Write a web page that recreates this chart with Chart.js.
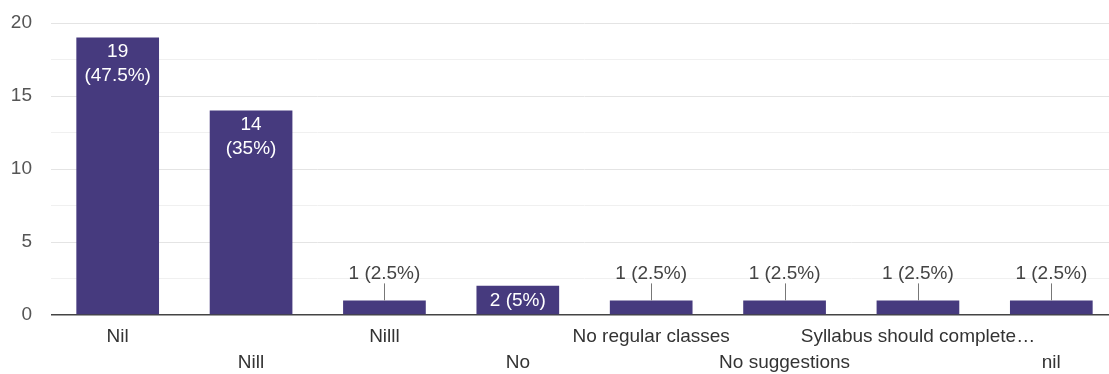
<!DOCTYPE html>
<html>
<head>
<meta charset="utf-8">
<script src="https://cdn.jsdelivr.net/npm/chart.js@4"></script>
<style>
  html, body { margin: 0; padding: 0; background: #fff; overflow: hidden; }
  #wrap { width: 1118px; height: 374px; position: relative; }
</style>
</head>
<body>
<div id="wrap"><canvas id="chart"></canvas></div>
<script>
let categories = ["Nil", "Nill", "Nilll", "No", "No regular classes", "No suggestions", "Syllabus should complete\u2026", "nil"];
let counts = [19, 14, 1, 2, 1, 1, 1, 1];
let yTicks = [0, 5, 10, 15, 20];

let total = counts.reduce((a, b) => a + b, 0);
let barColor = "#463a7e";
let font = "Liberation Sans, Arial, sans-serif";

function pctText(v) {
    return "(" + parseFloat((v / total * 100).toFixed(1)) + "%)";
}

// alternate labels on two rows like the original
let xLabels = categories.map((c, i) => i % 2 === 0 ? [c] : ["", c]);

let barLabels = {
    id: "barLabels",
    afterDatasetsDraw(chart) {
        let ctx = chart.ctx;
        let meta = chart.getDatasetMeta(0);
        ctx.save();
        ctx.font = "19px " + font;
        ctx.textAlign = "center";
        ctx.textBaseline = "middle";
        meta.data.forEach((bar, i) => {
            let v = counts[i];
            let h = bar.base - bar.y;
            let one = v + " " + pctText(v);
            if (h > 60) {
                ctx.fillStyle = "#fff";
                ctx.fillText(String(v), bar.x, bar.y + 14);
                ctx.fillText(pctText(v), bar.x, bar.y + 38);
            } else if (h >= 22) {
                ctx.fillStyle = "#fff";
                ctx.fillText(one, bar.x, (bar.y + bar.base) / 2 + 1);
            } else {
                ctx.strokeStyle = "#777";
                ctx.lineWidth = 1;
                ctx.beginPath();
                ctx.moveTo(Math.round(bar.x) + 0.5, bar.y);
                ctx.lineTo(Math.round(bar.x) + 0.5, bar.y - 17);
                ctx.stroke();
                ctx.fillStyle = "#444";
                ctx.fillText(one, bar.x, bar.y - 27);
            }
        });
        ctx.restore();
    }
};

new Chart(document.getElementById("chart"), {
    type: "bar",
    data: {
        labels: xLabels,
        datasets: [{
            data: counts,
            backgroundColor: barColor,
            borderWidth: 0,
            categoryPercentage: 1,
            barPercentage: 0.62
        }]
    },
    options: {
        responsive: true,
        maintainAspectRatio: false,
        animation: false,
        layout: { padding: { top: 23, right: 0, bottom: 0, left: 1 } },
        plugins: {
            legend: { display: false },
            tooltip: { enabled: false }
        },
        scales: {
            x: {
                grid: { display: false, drawTicks: false },
                border: { display: false },
                ticks: {
                    autoSkip: false,
                    maxRotation: 0,
                    padding: 9,
                    color: "#333",
                    font: { family: font, size: 19, lineHeight: "26px" }
                },
                afterFit: s => { s.height = 59; }
            },
            y: {
                min: 0,
                max: 20,
                grid: {
                    drawTicks: false,
                    color: c => c.tick.value === 0 ? "#444" : (c.tick.value % 5 === 0 ? "#e4e4e4" : "#f0f0f0"),
                    lineWidth: c => c.tick.value === 0 ? 1.5 : 1
                },
                border: { display: false },
                ticks: {
                    stepSize: 2.5,
                    padding: 19,
                    color: "#555",
                    font: { family: font, size: 19 },
                    callback: v => yTicks.includes(v) ? String(v) : ""
                },
                afterFit: s => {
                    s.width = 50;
                    s.paddingTop = 0;
                    s.paddingBottom = 0;
                }
            }
        }
    },
    plugins: [barLabels]
});
</script>
</body>
</html>
